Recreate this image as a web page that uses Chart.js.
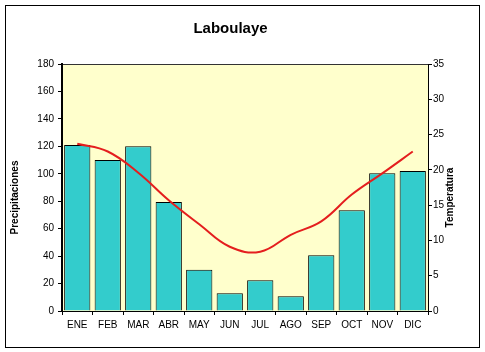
<!DOCTYPE html>
<html>
<head>
<meta charset="utf-8">
<script src="https://cdn.jsdelivr.net/npm/chart.js@4/dist/chart.umd.min.js"></script>
<style>
html,body{margin:0;padding:0;background:#fff;}
canvas{display:block;}
</style>
</head>
<body>
<canvas id="c" width="485" height="352"></canvas>
<script>
const months = ['ENE','FEB','MAR','ABR','MAY','JUN','JUL','AGO','SEP','OCT','NOV','DIC'];
const precipitaciones = [121, 110, 120, 79.5, 30, 13, 22.5, 10.7, 40.6, 73.4, 100.4, 102];
const temperatura = [23.7, 22.6, 19.6, 15.7, 12.3, 9.1, 8.4, 10.8, 12.7, 16.5, 19.5, 22.6];
const axisTitles = { left: 'Precipitaciones', right: 'Temperatura' };

const FONT = "'Liberation Sans', Arial, sans-serif";

const frame = {
  id: 'frame',
  beforeDraw(chart) {
    const ctx = chart.ctx, a = chart.chartArea;
    ctx.save();
    ctx.fillStyle = '#ffffff';
    ctx.fillRect(0, 0, chart.width, chart.height);
    ctx.strokeStyle = '#000';
    ctx.lineWidth = 1;
    ctx.strokeRect(5.5, 5.5, 474, 342);
    ctx.fillStyle = '#FFFFCC';
    ctx.fillRect(a.left, a.top, a.right - a.left, a.bottom - a.top);
    ctx.beginPath();
    ctx.moveTo(a.left, a.top + 0.5);
    ctx.lineTo(a.right, a.top + 0.5);
    ctx.strokeStyle = '#333';
    ctx.stroke();
    ctx.restore();
  },
  afterDraw(chart) {
    const ctx = chart.ctx, a = chart.chartArea;
    const cy = (a.top + a.bottom) / 2 + 10;
    ctx.save();
    ctx.font = "bold 10px " + FONT;
    ctx.fillStyle = '#000';
    ctx.textAlign = 'center';
    ctx.textBaseline = 'middle';
    ctx.translate(15, cy);
    ctx.rotate(-Math.PI / 2);
    ctx.fillText(axisTitles.left, 0, 0);
    ctx.restore();
    ctx.save();
    ctx.font = "bold 10px " + FONT;
    ctx.fillStyle = '#000';
    ctx.textAlign = 'center';
    ctx.textBaseline = 'middle';
    ctx.translate(450, cy);
    ctx.rotate(-Math.PI / 2);
    ctx.fillText(axisTitles.right, 0, 0);
    ctx.restore();
  }
};

new Chart(document.getElementById('c'), {
  data: {
    labels: months,
    datasets: [
      {
        type: 'line',
        label: 'Temperatura',
        data: temperatura,
        yAxisID: 'yT',
        borderColor: '#E41E1E',
        borderWidth: 2,
        pointRadius: 0,
        tension: 0.4,
        fill: false,
        order: 0
      },
      {
        type: 'bar',
        label: 'Precipitaciones',
        data: precipitaciones,
        yAxisID: 'yP',
        backgroundColor: '#33CCCC',
        borderColor: '#000000',
        borderWidth: 1,
        barPercentage: 0.86,
        categoryPercentage: 1,
        order: 1
      }
    ]
  },
  options: {
    responsive: false,
    animation: false,
    layout: { padding: { left: 6, right: 30, top: 0, bottom: 20 } },
    plugins: {
      legend: { display: false },
      tooltip: { enabled: false },
      title: {
        display: true,
        text: 'Laboulaye',
        color: '#000',
        font: { family: FONT, size: 15, weight: 'bold', lineHeight: 1.2 },
        padding: { top: 20, bottom: 26 }
      }
    },
    scales: {
      x: {
        type: 'category',
        offset: true,
        grid: { display: true, drawOnChartArea: false, drawTicks: true, tickLength: 4, offset: true, color: '#000' },
        border: { display: true, color: '#000', width: 1 },
        ticks: { color: '#000', font: { family: FONT, size: 10 }, padding: 4, maxRotation: 0, autoSkip: false },
        afterFit(s) { s.height = 21; }
      },
      yP: {
        type: 'linear',
        position: 'left',
        min: 0, max: 180,
        ticks: { stepSize: 20, color: '#000', font: { family: FONT, size: 10 }, padding: 4 },
        grid: { display: true, drawOnChartArea: false, drawTicks: true, tickLength: 4, color: '#000' },
        border: { display: true, color: '#000', width: 2 },
        afterFit(s) { s.width = 56; }
      },
      yT: {
        type: 'linear',
        position: 'right',
        min: 0, max: 35,
        ticks: { stepSize: 5, color: '#000', font: { family: FONT, size: 10 }, padding: 1 },
        grid: { display: true, drawOnChartArea: false, drawTicks: true, tickLength: 4, color: '#000' },
        border: { display: true, color: '#000', width: 1 },
        afterFit(s) { s.width = 27; }
      }
    }
  },
  plugins: [frame]
});
</script>
</body>
</html>
